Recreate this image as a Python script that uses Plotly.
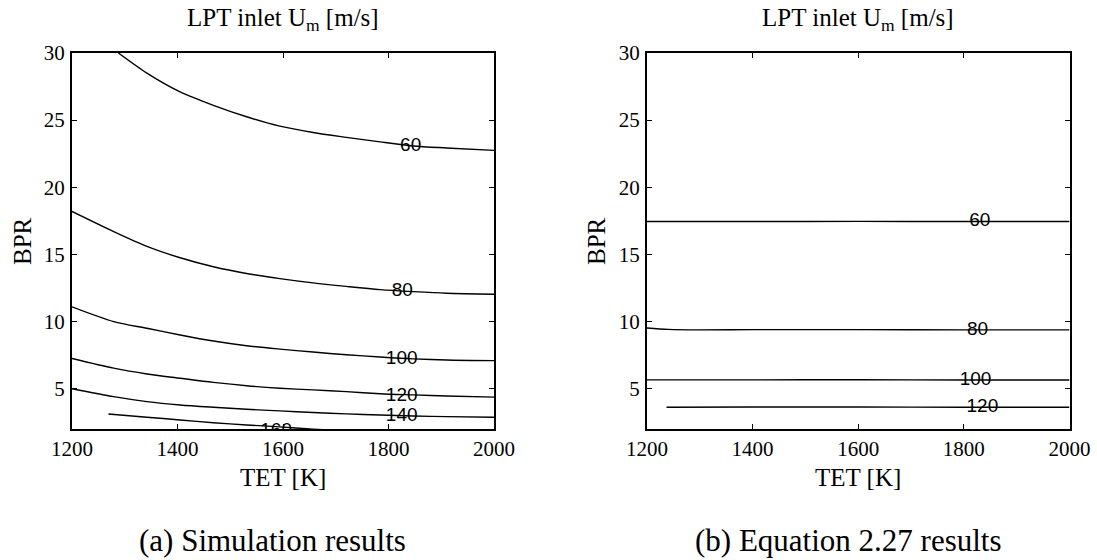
import plotly.graph_objects as go

# ---------------- data ----------------
levels_a = ["60", "80", "100", "120", "140", "160"]

a60_tet = [1288, 1342, 1405, 1468, 1531, 1594, 1657, 1720, 1784, 1847, 1910, 2000]
a60_bpr = [30.0, 28.5, 27.1, 26.1, 25.25, 24.55, 24.08, 23.72, 23.38, 23.08, 22.93, 22.75]

a_tet = [1200, 1279, 1342, 1405, 1468, 1531, 1594, 1657, 1720, 1784, 1847, 1910, 2000]
a80_bpr = [18.2, 16.7, 15.6, 14.75, 14.08, 13.58, 13.2, 12.88, 12.62, 12.38, 12.23, 12.11, 12.04]
a100_bpr = [11.1, 10.0, 9.5, 9.0, 8.55, 8.2, 7.95, 7.73, 7.53, 7.36, 7.22, 7.14, 7.09]
a120_bpr = [7.25, 6.53, 6.1, 5.78, 5.47, 5.22, 5.04, 4.91, 4.78, 4.63, 4.54, 4.46, 4.37]
a140_bpr = [5.0, 4.41, 4.04, 3.79, 3.62, 3.47, 3.35, 3.23, 3.13, 3.04, 2.97, 2.92, 2.88]

a160_tet = [1269, 1342, 1405, 1468, 1531, 1594, 1657, 1700]
a160_bpr = [3.12, 2.88, 2.67, 2.47, 2.3, 2.16, 1.99, 1.9]

a_label_tet = [1842, 1826, 1825, 1825, 1825, 1587]
a_label_bpr = [23.09, 12.23, 7.2, 4.46, 2.97, 1.8]

levels_b = ["60", "80", "100", "120"]
b60_tet = [1200, 1400, 1600, 1800, 2000]
b60_bpr = [17.45, 17.45, 17.46, 17.45, 17.45]
b80_tet = [1200, 1240, 1300, 1400, 1600, 1800, 2000]
b80_bpr = [9.52, 9.42, 9.38, 9.40, 9.40, 9.38, 9.38]
b100_tet = [1200, 1400, 1600, 1800, 2000]
b100_bpr = [5.66, 5.66, 5.67, 5.65, 5.65]
b120_tet = [1237, 1400, 1600, 1800, 2000]
b120_bpr = [3.62, 3.64, 3.64, 3.62, 3.62]

b_label_tet = [1830, 1826, 1822, 1835]
b_label_bpr = [17.45, 9.38, 5.65, 3.62]

x_ticks = [1200, 1400, 1600, 1800, 2000]
y_ticks = [5, 10, 15, 20, 25, 30]

# ---------------- figure ----------------
W, H = 1097, 560
fig = go.Figure()

line_style = dict(color="black", width=1.4)

for tx, by in [(a60_tet, a60_bpr), (a_tet, a80_bpr), (a_tet, a100_bpr),
               (a_tet, a120_bpr), (a_tet, a140_bpr), (a160_tet, a160_bpr)]:
    fig.add_trace(go.Scatter(x=tx, y=by, mode="lines", line=line_style,
                             line_shape="spline", line_smoothing=0.8,
                             xaxis="x", yaxis="y",
                             showlegend=False, hoverinfo="skip"))

for tx, by in [(b60_tet, b60_bpr), (b80_tet, b80_bpr), (b100_tet, b100_bpr),
               (b120_tet, b120_bpr)]:
    fig.add_trace(go.Scatter(x=tx, y=by, mode="lines", line=line_style,
                             line_shape="spline", line_smoothing=0.8,
                             xaxis="x2", yaxis="y2",
                             showlegend=False, hoverinfo="skip"))

lab_font = dict(family="Liberation Sans, Arial, sans-serif", size=19, color="black")
fig.add_trace(go.Scatter(x=a_label_tet, y=a_label_bpr, text=levels_a, mode="text",
                         textfont=lab_font, textposition="middle center",
                         cliponaxis=True, xaxis="x", yaxis="y", showlegend=False))
fig.add_trace(go.Scatter(x=b_label_tet, y=b_label_bpr, text=levels_b, mode="text",
                         textfont=lab_font, textposition="middle center",
                         cliponaxis=True, xaxis="x2", yaxis="y2", showlegend=False))

serif = "Liberation Serif"
tick_font = dict(family=serif, size=21, color="black")

def xax(domain, anchor):
    return dict(domain=domain, anchor=anchor, range=[1200, 2000], automargin=False,
                tickvals=x_ticks, ticks="inside", ticklen=5, tickwidth=1,
                tickcolor="black", showline=True, linewidth=2, linecolor="black",
                mirror="ticks", showgrid=False, zeroline=False,
                tickfont=tick_font, ticklabelstandoff=0)

def yax(domain, anchor):
    return dict(domain=domain, anchor=anchor, range=[2, 30], automargin=False,
                tickvals=y_ticks, ticks="inside", ticklen=5, tickwidth=1,
                tickcolor="black", showline=True, linewidth=2, linecolor="black",
                mirror="ticks", showgrid=False, zeroline=False,
                tickfont=tick_font, ticklabelstandoff=1)

ydom = [1 - 429 / H, 1 - 53 / H]
fig.update_layout(
    width=W, height=H,
    margin=dict(l=0, r=0, t=0, b=0, pad=0, autoexpand=False),
    paper_bgcolor="white", plot_bgcolor="white",
    font=dict(family=serif, color="black"),
    xaxis=xax([72 / W, 494 / W], "y"),
    yaxis=yax(ydom, "x"),
    xaxis2=xax([647 / W, 1069.5 / W], "y2"),
    yaxis2=yax(ydom, "x2"),
)

lbl_font = dict(family=serif, size=25, color="black")
cap_font = dict(family=serif, size=31, color="black")

def ann(text, xpx, ypx, font, angle=0):
    fig.add_annotation(text=text, x=xpx / W, y=1 - ypx / H, xref="paper", yref="paper",
                       xanchor="center", yanchor="middle", showarrow=False,
                       font=font, textangle=angle)

for cx in (283, 858):
    ann("LPT inlet U<sub>m</sub> [m/s]", cx, 20, lbl_font)
    ann("TET [K]", cx, 477, lbl_font)
ann("BPR", 22, 241, lbl_font, -90)
ann("BPR", 596, 241, lbl_font, -90)
ann("(a) Simulation results", 272, 540, cap_font)
ann("(b) Equation 2.27 results", 848, 540, cap_font)

fig.write_html("out.html")
